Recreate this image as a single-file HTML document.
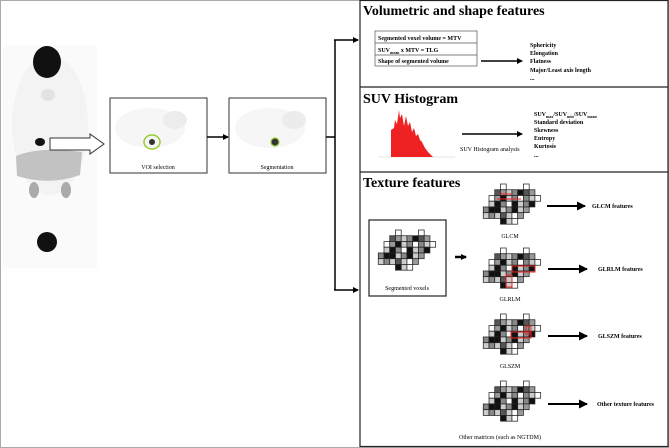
<!DOCTYPE html>
<html><head><style>
body{margin:0;background:#fff}
svg{display:block;font-family:"Liberation Serif",serif}
</style></head><body>
<svg width="669" height="448" viewBox="0 0 669 448" xmlns="http://www.w3.org/2000/svg">
<defs>
<g id="grid0" stroke="#222" stroke-width="0.9">
<rect x="14" y="0" width="7" height="7" fill="#fff"/><rect x="42" y="0" width="7" height="7" fill="#fff"/>
<rect x="7" y="7" width="7" height="7" fill="#555"/><rect x="14" y="7" width="7" height="7" fill="#999"/><rect x="21" y="7" width="7" height="7" fill="#ccc"/><rect x="28" y="7" width="7" height="7" fill="#888"/><rect x="35" y="7" width="7" height="7" fill="#111"/><rect x="42" y="7" width="7" height="7" fill="#555"/><rect x="49" y="7" width="7" height="7" fill="#999"/>
<rect x="0" y="14" width="7" height="7" fill="#fff"/><rect x="7" y="14" width="7" height="7" fill="#999"/><rect x="14" y="14" width="7" height="7" fill="#111"/><rect x="21" y="14" width="7" height="7" fill="#ccc"/><rect x="28" y="14" width="7" height="7" fill="#888"/><rect x="35" y="14" width="7" height="7" fill="#fff"/><rect x="42" y="14" width="7" height="7" fill="#888"/><rect x="49" y="14" width="7" height="7" fill="#ccc"/><rect x="56" y="14" width="7" height="7" fill="#fff"/>
<rect x="0" y="21" width="7" height="7" fill="#ccc"/><rect x="7" y="21" width="7" height="7" fill="#111"/><rect x="14" y="21" width="7" height="7" fill="#888"/><rect x="21" y="21" width="7" height="7" fill="#fff"/><rect x="28" y="21" width="7" height="7" fill="#111"/><rect x="35" y="21" width="7" height="7" fill="#ccc"/><rect x="42" y="21" width="7" height="7" fill="#888"/><rect x="49" y="21" width="7" height="7" fill="#111"/>
<rect x="-7" y="28" width="7" height="7" fill="#888"/><rect x="0" y="28" width="7" height="7" fill="#111"/><rect x="7" y="28" width="7" height="7" fill="#111"/><rect x="14" y="28" width="7" height="7" fill="#ccc"/><rect x="21" y="28" width="7" height="7" fill="#888"/><rect x="28" y="28" width="7" height="7" fill="#111"/><rect x="35" y="28" width="7" height="7" fill="#ccc"/><rect x="42" y="28" width="7" height="7" fill="#999"/>
<rect x="-7" y="35" width="7" height="7" fill="#ccc"/><rect x="0" y="35" width="7" height="7" fill="#888"/><rect x="7" y="35" width="7" height="7" fill="#ccc"/><rect x="14" y="35" width="7" height="7" fill="#555"/><rect x="21" y="35" width="7" height="7" fill="#ccc"/><rect x="28" y="35" width="7" height="7" fill="#fff"/><rect x="35" y="35" width="7" height="7" fill="#999"/>
<rect x="14" y="42" width="7" height="7" fill="#111"/><rect x="21" y="42" width="7" height="7" fill="#ccc"/><rect x="28" y="42" width="7" height="7" fill="#fff"/>
</g>
<g id="grid"><use href="#grid0" transform="scale(0.82)"/></g>
<marker id="ah" markerWidth="6" markerHeight="6" refX="5" refY="3" orient="auto" markerUnits="userSpaceOnUse"><path d="M0,0 L6,3 L0,6z" fill="#000"/></marker>
<marker id="ah2" markerWidth="9" markerHeight="9" refX="8" refY="4.5" orient="auto" markerUnits="userSpaceOnUse"><path d="M0,0 L9,4.5 L0,9z" fill="#000"/></marker>
</defs>
<rect x="0.5" y="0.5" width="668" height="447" fill="#fff" stroke="#aaa"/>
<!-- PET -->
<rect x="3" y="45" width="94" height="223" fill="#fafafa"/>
<ellipse cx="50" cy="125" rx="38" ry="70" fill="#f3f3f3"/>
<ellipse cx="47" cy="62" rx="14" ry="16" fill="#111"/>
<ellipse cx="48" cy="95" rx="7" ry="6" fill="#e2e2e2"/>
<path d="M16,156 Q40,146 82,152 L80,175 Q50,186 17,176z" fill="#c2c2c2"/>
<ellipse cx="34" cy="190" rx="5" ry="8" fill="#aaa"/><ellipse cx="66" cy="190" rx="5" ry="8" fill="#aaa"/>
<ellipse cx="40" cy="142" rx="5" ry="4" fill="#111"/>
<ellipse cx="47" cy="242" rx="10" ry="10" fill="#111"/>
<path d="M50,138 L90,138 L90,134 L104,144 L90,154 L90,150 L50,150z" fill="#fff" stroke="#333"/>
<!-- VOI / Seg -->
<rect x="110" y="98" width="97" height="75" fill="#fff" stroke="#333"/>
<ellipse cx="150" cy="128" rx="35" ry="20" fill="#f6f6f6"/><ellipse cx="175" cy="120" rx="12" ry="9" fill="#ececec"/>
<ellipse cx="152" cy="142" rx="8" ry="7" fill="none" stroke="#9c3" stroke-width="1.5"/><circle cx="152" cy="142" r="3" fill="#333"/>
<text x="158" y="169" font-size="6" text-anchor="middle">VOI selection</text>
<rect x="229" y="98" width="97" height="75" fill="#fff" stroke="#333"/>
<ellipse cx="270" cy="128" rx="35" ry="20" fill="#f6f6f6"/><ellipse cx="294" cy="120" rx="12" ry="9" fill="#ececec"/>
<circle cx="275" cy="142" r="4" fill="#333" stroke="#9c3" stroke-width="1.2"/>
<text x="277" y="169" font-size="6" text-anchor="middle">Segmentation</text>
<line x1="207" y1="137" x2="228" y2="137" stroke="#000" stroke-width="1.5" marker-end="url(#ah)"/>
<path d="M326,137 H335 M335,40 V290" stroke="#000" stroke-width="1.5" fill="none"/>
<line x1="334" y1="40" x2="358" y2="40" stroke="#000" stroke-width="1.5" marker-end="url(#ah)"/>
<line x1="334" y1="290" x2="358" y2="290" stroke="#000" stroke-width="1.5" marker-end="url(#ah)"/>
<!-- panels -->
<rect x="360" y="0.5" width="308" height="446" fill="none" stroke="#222" stroke-width="1.2"/>
<line x1="360" y1="87" x2="668" y2="87" stroke="#222" stroke-width="1.2"/>
<line x1="360" y1="172" x2="668" y2="172" stroke="#222" stroke-width="1.2"/>
<text x="363" y="15" font-size="14" font-weight="bold">Volumetric and shape features</text>
<rect x="375" y="31" width="102" height="35" fill="#fff" stroke="#555" stroke-width="0.7"/>
<line x1="375" y1="43" x2="477" y2="43" stroke="#555" stroke-width="0.7"/><line x1="375" y1="55" x2="477" y2="55" stroke="#555" stroke-width="0.7"/>
<g font-size="6" font-weight="bold"><text x="378" y="40">Segmented voxel volume = MTV</text>
<text x="378" y="52">SUV<tspan font-size="4" dy="2">mean</tspan><tspan dy="-2"> x MTV = TLG</tspan></text>
<text x="378" y="63">Shape of segmented volume</text></g>
<line x1="481" y1="61" x2="522" y2="61" stroke="#000" stroke-width="1.5" marker-end="url(#ah)"/>
<g font-size="6" font-weight="bold"><text x="530" y="47">Sphericity</text><text x="530" y="55">Elongation</text><text x="530" y="63">Flatness</text><text x="530" y="72">Major/Least axis length</text><text x="530" y="80">...</text></g>
<text x="363" y="103" font-size="14" font-weight="bold">SUV Histogram</text>
<line x1="378" y1="157" x2="455" y2="157" stroke="#ccc" stroke-width="0.5"/>
<path d="M391,157 L391,130 L394,128 L395,120 L397,124 L399,110 L400,118 L402,114 L404,126 L406,116 L408,126 L410,122 L412,132 L414,128 L416,136 L418,134 L420,140 L422,142 L425,148 L428,152 L432,156 L433,157z" fill="#e22"/>
<line x1="462" y1="134" x2="522" y2="134" stroke="#000" stroke-width="1.5" marker-end="url(#ah)"/>
<text x="460" y="151" font-size="6">SUV Histogram analysis</text>
<g font-size="6" font-weight="bold"><text x="534" y="116">SUV<tspan font-size="4" dy="2">max</tspan><tspan dy="-2">/SUV</tspan><tspan font-size="4" dy="2">min</tspan><tspan dy="-2">/SUV</tspan><tspan font-size="4" dy="2">mean</tspan></text>
<text x="534" y="124">Standard deviation</text><text x="534" y="132">Skewness</text><text x="534" y="140">Entropy</text><text x="534" y="148">Kurtosis</text><text x="534" y="157">...</text></g>
<text x="363" y="187" font-size="14" font-weight="bold">Texture features</text>
<rect x="369" y="220" width="77" height="76" fill="#fff" stroke="#222" stroke-width="1.2"/>
<use href="#grid" x="384" y="230"/>
<text x="407" y="290" font-size="6" text-anchor="middle">Segmented voxels</text>
<line x1="455" y1="257" x2="466" y2="257" stroke="#000" stroke-width="2.5" marker-end="url(#ah)"/>
<use href="#grid" x="489" y="184"/>
<line x1="500" y1="194" x2="512" y2="194" stroke="#e22"/><line x1="497" y1="199" x2="521" y2="199" stroke="#e22"/>
<text x="510" y="238" font-size="6" text-anchor="middle">GLCM</text>
<line x1="547" y1="206" x2="585" y2="206" stroke="#000" stroke-width="2" marker-end="url(#ah2)"/>
<text x="592" y="208" font-size="6" font-weight="bold">GLCM features</text>
<use href="#grid" x="489" y="248"/>
<rect x="512" y="266" width="23" height="6" fill="none" stroke="#e22"/><rect x="506" y="275" width="6" height="12" fill="none" stroke="#e22"/>
<text x="510" y="301" font-size="6" text-anchor="middle">GLRLM</text>
<line x1="548" y1="269" x2="587" y2="269" stroke="#000" stroke-width="2" marker-end="url(#ah2)"/>
<text x="598" y="271" font-size="6" font-weight="bold">GLRLM features</text>
<use href="#grid" x="489" y="314"/>
<rect x="511" y="332" width="20" height="6" fill="none" stroke="#e22"/><rect x="526" y="326" width="5" height="8" fill="none" stroke="#e22"/>
<text x="510" y="368" font-size="6" text-anchor="middle">GLSZM</text>
<line x1="548" y1="336" x2="587" y2="336" stroke="#000" stroke-width="2" marker-end="url(#ah2)"/>
<text x="598" y="338" font-size="6" font-weight="bold">GLSZM features</text>
<use href="#grid" x="489" y="381"/>
<text x="500" y="439" font-size="6" text-anchor="middle">Other matrices (such as NGTDM)</text>
<line x1="548" y1="404" x2="587" y2="404" stroke="#000" stroke-width="2" marker-end="url(#ah2)"/>
<text x="597" y="406" font-size="6" font-weight="bold">Other texture features</text>
</svg>
</body></html>
